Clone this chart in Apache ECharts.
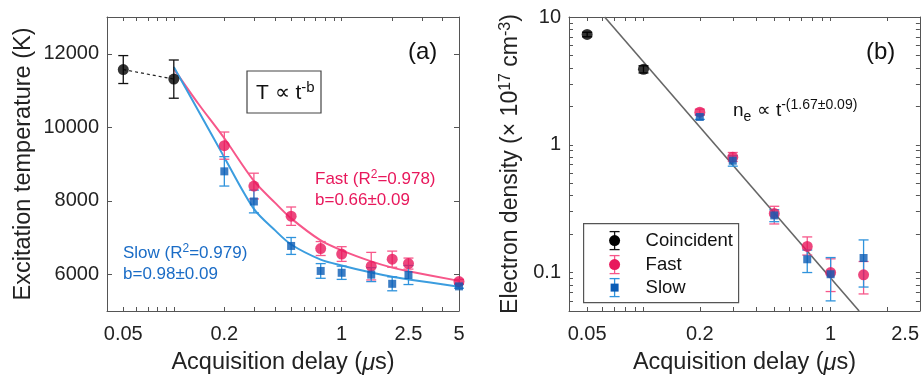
<!DOCTYPE html>
<html>
<head>
<meta charset="utf-8">
<script src="https://cdn.jsdelivr.net/npm/echarts@6/dist/echarts.min.js"></script>
<style>html,body{margin:0;padding:0;background:#fff}#c{width:922px;height:380px}</style>
</head>
<body>
<div id="c"></div>
<script>
// ---------- Panel (a): excitation temperature ----------
const delayA = [0.2, 0.3, 0.5, 0.75, 1, 1.5, 2, 2.5, 5];
const fastTemp = [9500, 8400, 7580, 6700, 6550, 6220, 6410, 6290, 5800];
const fastTempErr = [370, 350, 250, 190, 200, 375, 220, 150, 60];
const slowTemp = [8800, 7980, 6770, 6090, 6040, 5990, 5740, 5980, 5670];
const slowTempErr = [400, 310, 230, 200, 180, 190, 190, 260, 50];
const coinDelayA = [0.05, 0.1];
const coinTemp = [11570, 11310];
const coinTempErr = [380, 520];
const fitDelayA = [0.1, 0.14, 0.2, 0.3, 0.4, 0.5, 0.75, 1, 1.5, 2, 2.5, 5];
const fastFit = [11590, 10640, 9700, 8540, 7950, 7520, 6920, 6650, 6350, 6180, 6080, 5820];
const slowFit = [11640, 10450, 9180, 7780, 7200, 6810, 6400, 6240, 6045, 5930, 5860, 5660];
const xLabelsA = [0.05, 0.2, 1, 2.5, 5];
const yLabelsA = [6000, 8000, 10000, 12000];

// ---------- Panel (b): electron density ----------
const delayB = [0.2, 0.3, 0.5, 0.75, 1, 1.5];
const fastN = [1.8, 0.8, 0.29, 0.16, 0.1, 0.096];
const fastNLo = [1.7, 0.74, 0.24, 0.137, 0.071, 0.068];
const fastNHi = [1.9, 0.87, 0.33, 0.19, 0.128, 0.122];
const slowN = [1.65, 0.75, 0.28, 0.127, 0.097, 0.13];
const slowNLo = [1.58, 0.68, 0.25, 0.1, 0.06, 0.077];
const slowNHi = [1.72, 0.82, 0.31, 0.15, 0.131, 0.18];
const coinDelayB = [0.05, 0.1];
const coinN = [7.3, 3.9];
const coinNLo = [7.0, 3.65];
const coinNHi = [7.6, 4.15];
const fitNx = [0.062, 1.42];
const fitNy = [10, 0.05];
const xLabelsB = [0.05, 0.2, 1, 2.5];
const yLabelsB = [0.1, 1, 10];

// log minor tick values
const logTicksX = [0.04,0.05,0.06,0.07,0.08,0.09,0.1,0.2,0.3,0.4,0.5,0.6,0.7,0.8,0.9,1,2,3,4,5];
const logTicksY = [0.05,0.06,0.07,0.08,0.09,0.1,0.2,0.3,0.4,0.5,0.6,0.7,0.8,0.9,1,2,3,4,5,6,7,8,9,10];

const FONT = 'Liberation Sans, Arial, Helvetica, sans-serif';
const PINK = '#e8185c', PINK_LINE = '#f7578a';
const BLUE = '#0b5cb5', BLUE_BAR = '#2f93dc', BLUE_LINE = '#3b9ddf';
const AXC = '#555';
const TICKFS = 20, TITLEFS = 23.5;

const zip = (xs, ys) => xs.map((x, i) => [x, ys[i]]);
const errSym = (xs, ys, es) => xs.map((x, i) => [x, ys[i], ys[i] - es[i], ys[i] + es[i]]);
const errAsym = (xs, ys, lo, hi) => xs.map((x, i) => [x, ys[i], lo[i], hi[i]]);
const fmtNum = v => String(+(+v).toPrecision(3));

function errRender(color) {
  return function (params, api) {
    const x = api.value(0);
    const p1 = api.coord([x, api.value(2)]);
    const p2 = api.coord([x, api.value(3)]);
    const w = 5;
    const st = { stroke: color, lineWidth: 1.3 };
    return {
      type: 'group',
      children: [
        { type: 'line', shape: { x1: p1[0], y1: p1[1], x2: p2[0], y2: p2[1] }, style: st },
        { type: 'line', shape: { x1: p1[0] - w, y1: p1[1], x2: p1[0] + w, y2: p1[1] }, style: st },
        { type: 'line', shape: { x1: p2[0] - w, y1: p2[1], x2: p2[0] + w, y2: p2[1] }, style: st }
      ]
    };
  };
}

function xAx(grid, min, max, labels, pos, showName) {
  return {
    type: 'log', logBase: 10, gridIndex: grid, min: min, max: max, position: pos,
    axisLine: { show: true, onZero: false, lineStyle: { color: AXC, width: 1 } },
    axisTick: { show: true, inside: true, length: 4, customValues: logTicksX, lineStyle: { color: AXC } },
    axisLabel: pos === 'bottom' ? { show: true, customValues: labels, fontSize: TICKFS, color: '#222', fontFamily: FONT, margin: 13,
      formatter: fmtNum } : { show: false },
    splitLine: { show: false },
    name: showName ? 'Acquisition delay ({it|μ}s)' : '',
    nameLocation: 'middle', nameGap: 40,
    nameTextStyle: { fontSize: TITLEFS, color: '#222', fontFamily: FONT, rich: { it: { fontSize: TITLEFS, fontStyle: 'italic', color: '#222', fontFamily: FONT } } }
  };
}

const option = {
  animation: false,
  grid: [
    { left: 107, top: 17, width: 352, height: 299 },
    { left: 569, top: 17, width: 352, height: 299 }
  ],
  xAxis: [
    xAx(0, 0.04, 5, xLabelsA, 'bottom', true),
    xAx(0, 0.04, 5, xLabelsA, 'top', false),
    xAx(1, 0.04, 3, xLabelsB, 'bottom', true),
    xAx(1, 0.04, 3, xLabelsB, 'top', false)
  ],
  yAxis: [
    {
      type: 'value', gridIndex: 0, min: 5000, max: 13000, position: 'left',
      axisLine: { show: true, onZero: false, lineStyle: { color: AXC } },
      axisTick: { show: true, inside: true, length: 5, customValues: yLabelsA, lineStyle: { color: AXC } },
      axisLabel: { customValues: yLabelsA, fontSize: TICKFS, color: '#222', fontFamily: FONT, margin: 8, formatter: v => String(v) },
      splitLine: { show: false },
      name: 'Excitation temperature (K)', nameLocation: 'middle', nameGap: 71,
      nameTextStyle: { fontSize: TITLEFS, color: '#222', fontFamily: FONT }
    },
    {
      type: 'value', gridIndex: 0, min: 5000, max: 13000, position: 'right',
      axisLine: { show: true, onZero: false, lineStyle: { color: AXC } },
      axisTick: { show: true, inside: true, length: 5, customValues: yLabelsA, lineStyle: { color: AXC } },
      axisLabel: { show: false }, splitLine: { show: false }
    },
    {
      type: 'log', logBase: 10, gridIndex: 1, min: 0.05, max: 10, position: 'left',
      axisLine: { show: true, onZero: false, lineStyle: { color: AXC } },
      axisTick: { show: true, inside: true, length: 4, customValues: logTicksY, lineStyle: { color: AXC } },
      axisLabel: { customValues: yLabelsB, fontSize: TICKFS, color: '#222', fontFamily: FONT, margin: 8, formatter: fmtNum },
      splitLine: { show: false },
      name: 'Electron density (× 10{sup|17} cm{sup|-3})', nameLocation: 'middle', nameGap: 45,
      nameTextStyle: { fontSize: 23, color: '#222', fontFamily: FONT,
        rich: { sup: { fontSize: 16, verticalAlign: 'top', color: '#222', fontFamily: FONT, padding: [0, 0, 10, 0] } } }
    },
    {
      type: 'log', logBase: 10, gridIndex: 1, min: 0.05, max: 10, position: 'right',
      axisLine: { show: true, onZero: false, lineStyle: { color: AXC } },
      axisTick: { show: true, inside: true, length: 4, customValues: logTicksY, lineStyle: { color: AXC } },
      axisLabel: { show: false }, splitLine: { show: false }
    }
  ],
  series: [
    // ----- panel (a)
    { type: 'line', xAxisIndex: 0, yAxisIndex: 0, data: zip(fitDelayA, fastFit), smooth: 0.3,
      symbol: 'none', lineStyle: { color: PINK_LINE, width: 2 }, z: 2 },
    { type: 'line', xAxisIndex: 0, yAxisIndex: 0, data: zip(fitDelayA, slowFit), smooth: 0.3,
      symbol: 'none', lineStyle: { color: BLUE_LINE, width: 2 }, z: 2 },
    { type: 'line', xAxisIndex: 0, yAxisIndex: 0, data: zip(coinDelayA, coinTemp), symbol: 'none',
      lineStyle: { color: '#222', width: 1.2, type: [3, 3] }, z: 2 },
    { type: 'custom', xAxisIndex: 0, yAxisIndex: 0, data: errSym(coinDelayA, coinTemp, coinTempErr), renderItem: errRender('#111'), z: 3 },
    { type: 'custom', xAxisIndex: 0, yAxisIndex: 0, data: errSym(delayA, fastTemp, fastTempErr), renderItem: errRender(PINK_LINE), z: 3 },
    { type: 'custom', xAxisIndex: 0, yAxisIndex: 0, data: errSym(delayA, slowTemp, slowTempErr), renderItem: errRender(BLUE_BAR), z: 3 },
    { name: 'Coincident', type: 'scatter', xAxisIndex: 0, yAxisIndex: 0, data: zip(coinDelayA, coinTemp), symbol: 'circle', symbolSize: 11,
      itemStyle: { color: '#000' }, z: 4 },
    { name: 'Fast', type: 'scatter', xAxisIndex: 0, yAxisIndex: 0, data: zip(delayA, fastTemp), symbol: 'circle', symbolSize: 11,
      itemStyle: { color: PINK }, z: 4 },
    { name: 'Slow', type: 'scatter', xAxisIndex: 0, yAxisIndex: 0, data: zip(delayA, slowTemp), symbol: 'rect', symbolSize: 8,
      itemStyle: { color: BLUE }, z: 5 },
    // ----- panel (b)
    { type: 'line', xAxisIndex: 2, yAxisIndex: 2, data: zip(fitNx, fitNy), symbol: 'none',
      lineStyle: { color: '#666', width: 1.6 }, z: 2 },
    { type: 'custom', xAxisIndex: 2, yAxisIndex: 2, data: errAsym(coinDelayB, coinN, coinNLo, coinNHi), renderItem: errRender('#111'), z: 3 },
    { type: 'custom', xAxisIndex: 2, yAxisIndex: 2, data: errAsym(delayB, fastN, fastNLo, fastNHi), renderItem: errRender(PINK_LINE), z: 3 },
    { type: 'custom', xAxisIndex: 2, yAxisIndex: 2, data: errAsym(delayB, slowN, slowNLo, slowNHi), renderItem: errRender(BLUE_BAR), z: 3 },
    { name: 'Coincident', type: 'scatter', xAxisIndex: 2, yAxisIndex: 2, data: zip(coinDelayB, coinN), symbol: 'circle', symbolSize: 11,
      itemStyle: { color: '#000' }, z: 4 },
    { name: 'Fast', type: 'scatter', xAxisIndex: 2, yAxisIndex: 2, data: zip(delayB, fastN), symbol: 'circle', symbolSize: 11,
      itemStyle: { color: PINK }, z: 4 },
    { name: 'Slow', type: 'scatter', xAxisIndex: 2, yAxisIndex: 2, data: zip(delayB, slowN), symbol: 'rect', symbolSize: 8,
      itemStyle: { color: BLUE }, z: 5 }
  ],
  graphic: [
    // panel (a) annotations
    { type: 'text', left: 408, top: 40, style: { text: '(a)', fontSize: 24, fill: '#111', fontFamily: FONT } },
    { type: 'rect', shape: { x: 247, y: 71, width: 74, height: 42 }, style: { fill: '#fff', stroke: '#444', lineWidth: 1.2 }, z: 10 },
    { type: 'text', left: 256, top: 80, z: 11, style: { text: 'T ∝ t{sup|-b}', fontSize: 21, fill: '#111', fontFamily: FONT,
      rich: { sup: { fontSize: 15, fill: '#111', fontFamily: FONT, verticalAlign: 'top', padding: [0, 0, 12, 0] } } } },
    { type: 'text', left: 315, top: 169, style: { text: 'Fast (R{sup|2}=0.978)', fontSize: 17, fill: PINK, fontFamily: FONT,
      rich: { sup: { fontSize: 12, fill: PINK, fontFamily: FONT, verticalAlign: 'top', padding: [0, 0, 8, 0] } } } },
    { type: 'text', left: 315, top: 192, style: { text: 'b=0.66±0.09', fontSize: 17, fill: PINK, fontFamily: FONT } },
    { type: 'text', left: 123, top: 243, style: { text: 'Slow (R{sup|2}=0.979)', fontSize: 17, fill: '#1a6cc6', fontFamily: FONT,
      rich: { sup: { fontSize: 12, fill: '#1a6cc6', fontFamily: FONT, verticalAlign: 'top', padding: [0, 0, 8, 0] } } } },
    { type: 'text', left: 123, top: 266, style: { text: 'b=0.98±0.09', fontSize: 17, fill: '#1a6cc6', fontFamily: FONT } },
    // panel (b) annotations
    { type: 'text', left: 866, top: 40, style: { text: '(b)', fontSize: 24, fill: '#111', fontFamily: FONT } },
    { type: 'text', left: 733, top: 98, style: { text: 'n{sub|e} ∝ t{sup|-(1.67±0.09)}', fontSize: 19, fill: '#111', fontFamily: FONT,
      rich: { sup: { fontSize: 14, fill: '#111', fontFamily: FONT, verticalAlign: 'top', padding: [0, 0, 12, 0] },
              sub: { fontSize: 14, fill: '#111', fontFamily: FONT, verticalAlign: 'bottom', padding: [10, 0, 0, 0] } } } },
    // legend (b)
    { type: 'group', left: 583, top: 223, z: 20, children: [
      { type: 'rect', shape: { x: 0, y: 0, width: 155, height: 79 }, style: { fill: '#fff', stroke: '#555', lineWidth: 1.2 } },
      { type: 'line', shape: { x1: 31, y1: 8, x2: 31, y2: 26 }, style: { stroke: '#111', lineWidth: 1.3 } },
      { type: 'line', shape: { x1: 26, y1: 8, x2: 36, y2: 8 }, style: { stroke: '#111', lineWidth: 1.3 } },
      { type: 'line', shape: { x1: 26, y1: 26, x2: 36, y2: 26 }, style: { stroke: '#111', lineWidth: 1.3 } },
      { type: 'circle', shape: { cx: 31, cy: 17, r: 5.5 }, style: { fill: '#000' } },
      { type: 'text', x: 62, y: 17, style: { text: 'Coincident', fontSize: 18.5, fill: '#111', fontFamily: FONT, verticalAlign: 'middle' } },
      { type: 'line', shape: { x1: 31, y1: 32, x2: 31, y2: 50 }, style: { stroke: PINK_LINE, lineWidth: 1.3 } },
      { type: 'line', shape: { x1: 26, y1: 32, x2: 36, y2: 32 }, style: { stroke: PINK_LINE, lineWidth: 1.3 } },
      { type: 'line', shape: { x1: 26, y1: 50, x2: 36, y2: 50 }, style: { stroke: PINK_LINE, lineWidth: 1.3 } },
      { type: 'circle', shape: { cx: 31, cy: 41, r: 5.5 }, style: { fill: PINK } },
      { type: 'text', x: 62, y: 41, style: { text: 'Fast', fontSize: 18.5, fill: '#111', fontFamily: FONT, verticalAlign: 'middle' } },
      { type: 'line', shape: { x1: 31, y1: 55, x2: 31, y2: 73 }, style: { stroke: BLUE_BAR, lineWidth: 1.3 } },
      { type: 'line', shape: { x1: 26, y1: 55, x2: 36, y2: 55 }, style: { stroke: BLUE_BAR, lineWidth: 1.3 } },
      { type: 'line', shape: { x1: 26, y1: 73, x2: 36, y2: 73 }, style: { stroke: BLUE_BAR, lineWidth: 1.3 } },
      { type: 'rect', shape: { x: 27, y: 60, width: 8, height: 8 }, style: { fill: BLUE } },
      { type: 'text', x: 62, y: 64, style: { text: 'Slow', fontSize: 18.5, fill: '#111', fontFamily: FONT, verticalAlign: 'middle' } }
    ]}
  ]
};

const chart = echarts.init(document.getElementById('c'), null, { renderer: 'canvas' });
chart.setOption(option);
</script>
</body>
</html>
